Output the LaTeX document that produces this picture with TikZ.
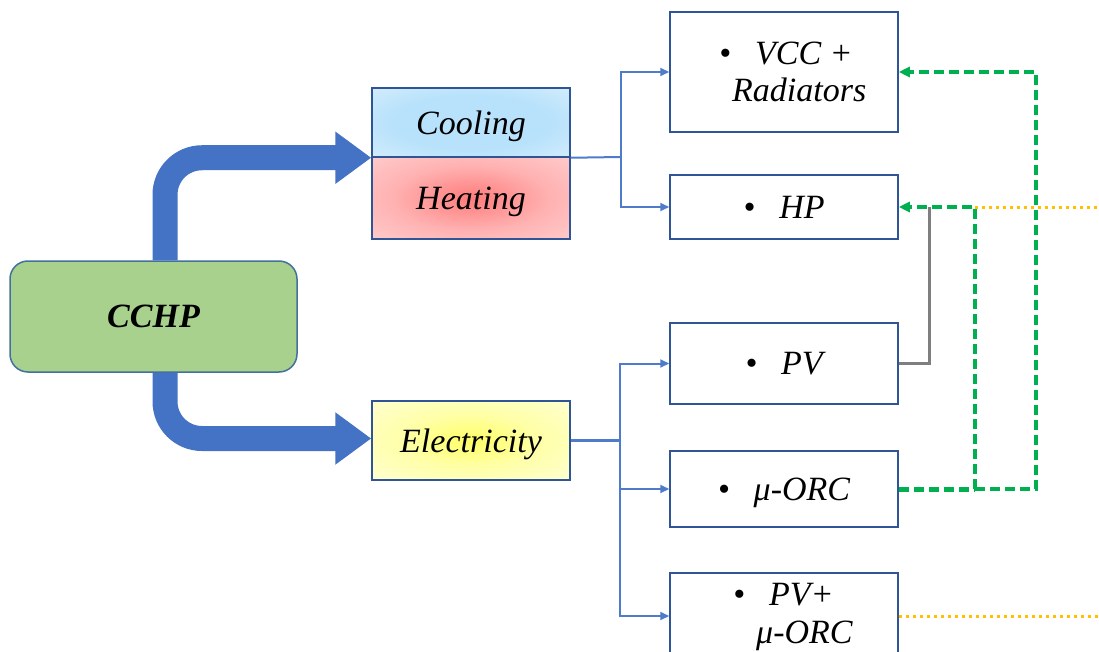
\documentclass[tikz,border=0pt]{standalone}
\usepackage{fontspec}
\setmainfont{Liberation Serif}
\usetikzlibrary{arrows.meta}
\definecolor{boxblue}{HTML}{2F5597}
\definecolor{linkblue}{HTML}{4F7BCB}
\definecolor{bandblue}{HTML}{4472C4}
\definecolor{cchpgreen}{HTML}{A9D18E}
\definecolor{cchpedge}{HTML}{41719C}
\definecolor{flowgreen}{HTML}{00B050}
\definecolor{floworange}{HTML}{FFC000}
\definecolor{flowgray}{HTML}{7F7F7F}
\definecolor{coolin}{HTML}{B8E2FB}
\definecolor{coolout}{HTML}{E2F2FD}
\definecolor{heatin}{HTML}{FF7C7C}
\definecolor{heatmid}{HTML}{FFB2B2}
\definecolor{heatout}{HTML}{FFD4D4}
\definecolor{elecin}{HTML}{FFFF66}
\definecolor{elecmid}{HTML}{FFFFA8}
\definecolor{elecout}{HTML}{FFFFDA}
\pgfdeclareradialshading{coolshade}{\pgfpoint{0bp}{0bp}}{color(0bp)=(coolin); color(20bp)=(coolin); color(45bp)=(coolout); color(50bp)=(coolout)}
\pgfdeclareradialshading{heatshade}{\pgfpoint{0bp}{0bp}}{color(0bp)=(heatin); color(20bp)=(heatmid); color(42bp)=(heatout); color(50bp)=(heatout)}
\pgfdeclareradialshading{elecshade}{\pgfpoint{0bp}{0bp}}{color(0bp)=(elecin); color(17bp)=(elecmid); color(40bp)=(elecout); color(50bp)=(elecout)}
\begin{document}
\begin{tikzpicture}[x=1pt,y=-1pt,
  txt/.style={font=\fontsize{34}{38}\selectfont\itshape, text depth=0pt, inner sep=0pt},
  rbox/.style={txt, draw=boxblue, line width=1.5pt, fill=white, minimum width=228pt},
  mbox/.style={txt, draw=boxblue, line width=1.5pt, minimum width=198pt},
  band/.style={draw=bandblue, line width=25pt, rounded corners=37pt, -{Triangle[length=36pt,width=50pt]}},
  link/.style={draw=linkblue, line width=2pt, -{Triangle[length=9pt,width=8pt]}},
  trunk/.style={draw=linkblue, line width=3pt},
  gdash/.style={draw=flowgreen, line width=4pt, dash pattern=on 10pt off 5pt},
  garrow/.style={gdash, -{Triangle[length=11pt,width=10pt]}},
  odot/.style={draw=floworange, line width=3pt, dash pattern=on 3pt off 4pt},
  gline/.style={draw=flowgray, line width=3pt}
]
\useasboundingbox (0,0) rectangle (1099,652);
\clip (0,0) rectangle (1099,652);

% left column
\node[txt, draw=cchpedge, line width=1.5pt, fill=cchpgreen, rounded corners=18pt,
      minimum width=287pt, minimum height=111pt] (CCHP) at (153.5,316.5) {\bfseries CCHP};
\node[mbox, minimum height=69pt, shading=coolshade] (Cooling) at (471,122.5) {Cooling};
\node[mbox, minimum height=82pt, shading=heatshade] (Heating) at (471,198) {Heating};
\node[mbox, minimum height=79pt, shading=elecshade] (Electricity) at (471,440.5) {Electricity};

% right column
\node[rbox, minimum height=120pt] (VCC) at (784,72) {};
\node[txt, anchor=base west] (vcctxt) at (719,65) {\textbullet\hspace{24pt}VCC +};
\node[txt, anchor=base west] (radtxt) at (732,102) {Radiators};
\node[rbox, minimum height=64pt] (HP) at (784,207) {\textbullet\hspace{24pt}HP};
\node[rbox, minimum height=81pt] (PV) at (784,363.5) {\textbullet\hspace{24pt}PV};
\node[rbox, minimum height=76pt] (ORC) at (784,489) {\textbullet\hspace{24pt}μ-ORC};
\node[rbox, minimum height=86pt] (PVORC) at (784,616) {};
\node[txt, anchor=base west] (pvtxt) at (733,605) {\textbullet\hspace{24pt}PV+};
\node[txt, anchor=base west] (orctxt) at (756,643) {μ-ORC};

% thick blue arrows
\draw[band] ([xshift=11.5pt]CCHP.north) |- (Cooling.south west);
\draw[band] ([xshift=11.5pt]CCHP.south) |- ([yshift=2pt]Electricity.west);

% thin blue connectors
\coordinate (j1) at (621,157);
\coordinate (j2) at (620,440.5);
\draw[trunk, line width=2pt] (Cooling.south east) -- (j1);
\draw[link] (j1) |- (VCC.west);
\draw[link] (j1) |- (HP.west);
\draw[trunk] (Electricity.east) -- (j2);
\draw[link] (j2) |- (PV.west);
\draw[link] (j2) |- (ORC.west);
\draw[link] (j2) |- (PVORC.west);

% orange dotted
\coordinate (o1) at (975,208);
\coordinate (o2) at (1099,208);
\coordinate (o3) at (1099,616);
\draw[odot] (o1) -- (o2);
\draw[odot] (PVORC.east) -- (o3);

% gray
\coordinate (g1) at (929.5,207);
\draw[gline] (PV.east) -| (g1);

% green dashed
\coordinate (k1) at (975,489);
\coordinate (k2) at (1036,489);
\draw[gdash, line width=5pt] (ORC.east) -- (k1);
\draw[garrow] (k1) |- (HP.east);
\draw[garrow] (k1) -- (k2) |- (VCC.east);
\end{tikzpicture}
\end{document}
